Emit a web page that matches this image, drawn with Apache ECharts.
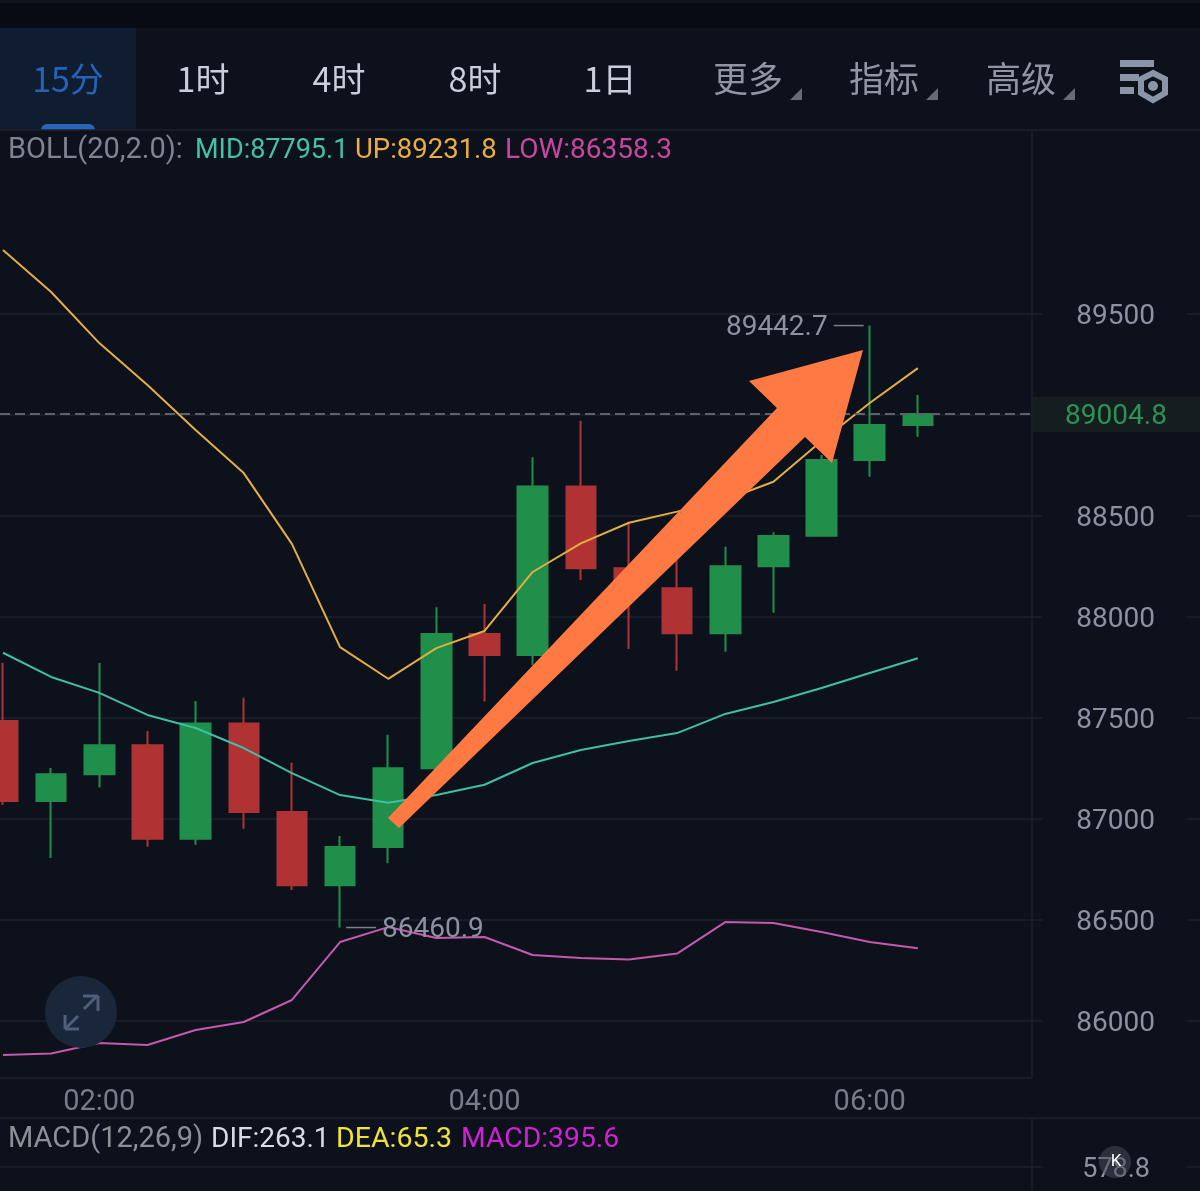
<!DOCTYPE html>
<html>
<head>
<meta charset="utf-8">
<style>html,body{margin:0;padding:0;background:#0d111b}#c{width:1200px;height:1191px}</style>
<script src="https://cdn.jsdelivr.net/npm/echarts@6/dist/echarts.min.js"></script>
</head>
<body>
<div id="c"></div>
<script>
const categories = ['01:30','01:45','02:00','02:15','02:30','02:45','03:00','03:15','03:30','03:45','04:00','04:15','04:30','04:45','05:00','05:15','05:30','05:45','06:00','06:15','06:30','06:45','07:00','07:15','07:30','07:45'];
const opens  = [87484,87088,87220,87364,86901,87472,87033,86670,86860,87250,87915,87811,88645,88240,88141,87918,88250,88402,88777,88950];
const closes = [87088,87220,87364,86901,87472,87033,86670,86860,87250,87915,87811,88645,88240,88141,87918,88250,88400,88777,88950,89004.8];
const lows   = [87068,86805,87155,86861,86871,86950,86647,86460.9,86779,87241,87580,87761,88182,87841,87733,87827,88020,88400,88694,88892];
const highs  = [87773,87251,87771,87434,87583,87599,87277,86914,87416,88047,88064,88790,88971,88465,88281,88347,88419,88802,89442.7,89099];
const bollUp  = [89817,89609,89356,89148,88925,88712,88361,87850,87693,87845,87930,88222,88364,88466,88521,88579,88669,88871,89059,89231.8];
const bollMid = [87822,87702,87623,87514,87449,87350,87226,87117,87079,87117,87168,87276,87340,87385,87424,87519,87578,87647,87722,87795.1];
const bollLow = [85829,85837,85889,85879,85953,85993,86102,86389,86463,86409,86414,86325,86310,86302,86332,86488,86483,86439,86389,86358.3];
const priceTicks = [86000,86500,87000,87500,88000,88500,89000,89500];
const timeLabels = ['02:00','04:00','06:00'];
const macdTicks = [578.8];
const lastPrice = 89004.8, highPrice = 89442.7, lowPrice = 86460.9;
const tabsActive = ['15分'];
const tabs = ['1时','4时','8时','1日'];
const menus = ['更多','指标','高级'];

const BG='#0d111b', GRID='#1c202b', LABEL='#8c92a2';
const LAT='Roboto, "Noto Sans CJK SC", sans-serif';
const CJK='"Noto Sans CJK SC", Roboto, sans-serif';
const chart = echarts.init(document.getElementById('c'));

function txt(x,y,text,size,fill,align,font,weight){
  return {type:'text',z:50,x:x,y:y,style:{text:text,fontSize:size,fill:fill,align:align||'left',verticalAlign:'middle',fontFamily:font||LAT,fontWeight:weight||'normal'}};
}
function rect(x,y,w,h,fill,r){return {type:'rect',z:40,shape:{x:x,y:y,width:w,height:h,r:r||0},style:{fill:fill}};}
function ln(x1,y1,x2,y2,c,w){return {type:'line',z:45,shape:{x1:x1,y1:y1,x2:x2,y2:y2},style:{stroke:c||GRID,lineWidth:w||1.5}};}
function poly(points,fill,z){return {type:'polygon',z:z||50,shape:{points:points},style:{fill:fill}};}

const tabX=[203,339,475,610], menuX=[748,884,1021];
const graphics=[
  rect(0,0,1200,28,'#080b13'), rect(0,0,1200,3,'#11141e'),
  rect(0,28,136,102,'#101c30'),
  rect(41,124,54,6,'#2a66b8',[6,6,0,0]),
  ln(0,130,1200,130), ln(0,1078,1032,1078), ln(0,1118,1200,1118),
  ln(1032,130,1032,1078), ln(1032,1118,1032,1191),
  txt(68,79,tabsActive[0],34,'#2464b8','center',CJK)
];
tabs.forEach((t,i)=>graphics.push(txt(tabX[i],79,t,34,'#c9cedb','center',CJK)));
menus.forEach((t,i)=>{
  graphics.push(txt(menuX[i],79,t,35,'#8e95a3','center',CJK));
  const tx=[802,938,1075][i];
  graphics.push(poly([[tx-12,100],[tx,88],[tx,100]],'#666b78'));
});
graphics.push(rect(1120,60,34,7,'#8b95a8'),rect(1120,74,19,7,'#8b95a8'),rect(1120,87,14,7,'#8b95a8'));
graphics.push({type:'polygon',z:50,shape:{points:[[1153,73],[1165,79],[1165,93],[1153,100],[1141,93],[1141,79]]},style:{fill:'none',stroke:'#8b95a8',lineWidth:6}});
graphics.push({type:'circle',z:50,shape:{cx:1153,cy:86,r:5},style:{fill:'#8b95a8'}});
graphics.push(
  txt(8,151,'BOLL(20,2.0):',29,'#7e8490'),
  txt(195,151,'MID:87795.1',27,'#44c2a5'),
  txt(355,151,'UP:89231.8',27.5,'#e8ae3f'),
  txt(505,151,'LOW:86358.3',28,'#c6479e'),
  txt(8,1140,'MACD(12,26,9)',29,'#8d8f96'),
  txt(211,1140,'DIF:263.1',28,'#d8dbe2'),
  txt(336,1140,'DEA:65.3',28.5,'#efe23f'),
  txt(461,1140,'MACD:395.6',28.3,'#cf22d2')
);
graphics.push({type:'circle',z:48,shape:{cx:81,cy:1012,r:36},style:{fill:'#1a273b'}});
graphics.push(
  ln(66,1028,78,1016,'#4f5f77',3), ln(65,1015,65,1029,'#4f5f77',3), ln(65,1029,79,1029,'#4f5f77',3),
  ln(84,1009,97,996,'#4f5f77',3), ln(83,996,98,996,'#4f5f77',3), ln(98,996,98,1011,'#4f5f77',3)
);
graphics.forEach(g=>{ if(g.type==='line' && g.style.stroke==='#4f5f77') g.z=49; });
graphics.push({type:'circle',z:60,shape:{cx:1115,cy:1162,r:16},style:{fill:'rgba(70,75,88,0.55)'}});
graphics.push(Object.assign(txt(1116,1162,'K',17,'#ffffff','center'),{z:61}));
graphics.push(poly([[388,818],[777,408],[749,381],[863,350],[832,463],[805,437],[399,828]],'#ff7a43',100));

const option={
  backgroundColor:BG,
  animation:false,
  graphic:graphics,
  grid:[
    {left:-21.07,top:130,width:1251.9,height:948,containLabel:false,outerBoundsMode:'none'},
    {left:-21.07,top:1118,width:1251.9,height:73,containLabel:false,outerBoundsMode:'none'}
  ],
  xAxis:[
    {type:'category',gridIndex:0,data:categories,boundaryGap:true,
     axisLine:{show:false},axisTick:{show:false},splitLine:{show:false},
     axisLabel:{margin:8.5,fontSize:29,color:'#777c88',fontFamily:LAT,lineHeight:32,hideOverlap:false,
       interval:(i,v)=>timeLabels.includes(v)}},
    {type:'category',gridIndex:1,data:categories,show:false}
  ],
  yAxis:[
    {type:'value',gridIndex:0,position:'right',min:85715.5,max:90411.4,scale:true,
     axisLine:{show:false},
     axisTick:{show:false,customValues:priceTicks},
     splitLine:{show:true,lineStyle:{color:GRID,width:1.5}},
     axisLabel:{inside:true,customValues:priceTicks,margin:43.8,fontSize:28,color:LABEL,fontFamily:LAT,
       backgroundColor:BG,padding:[0,32,0,34],showMinLabel:true,showMaxLabel:true,
       rich:{a:{fontSize:28,color:LABEL,fontFamily:LAT,padding:[6,0,0,0]}},
       formatter:v=>v===89000?'':'{a|'+v+'}'}},
    {type:'value',gridIndex:1,position:'right',min:0,max:1760,
     axisLine:{show:false},
     axisTick:{show:false,customValues:macdTicks},
     splitLine:{show:true,lineStyle:{color:GRID,width:1.5}},
     axisLabel:{inside:true,customValues:macdTicks,margin:43.8,fontSize:27,color:LABEL,fontFamily:LAT,
       backgroundColor:BG,padding:[0,37,0,39],
       rich:{a:{fontSize:27,color:LABEL,fontFamily:LAT,padding:[6,0,0,0]}},
       formatter:v=>'{a|'+v.toFixed(1)+'}'}}
  ],
  series:[
    {type:'candlestick',xAxisIndex:0,yAxisIndex:0,barWidth:30,z:2,
     data:opens.map((o,i)=>[o,closes[i],lows[i],highs[i]]),
     itemStyle:{color:'#1f8f49',color0:'#b13232',borderColor:'#238d4d',borderColor0:'#ad3436',borderWidth:2}},
    {type:'line',name:'UP',data:bollUp,symbol:'none',z:3,lineStyle:{color:'#e3ae45',width:2}},
    {type:'line',name:'MID',data:bollMid,symbol:'none',z:3,lineStyle:{color:'#3fbfa3',width:2}},
    {type:'line',name:'LOW',data:bollLow,symbol:'none',z:3,lineStyle:{color:'#c459ae',width:2}},
    {type:'custom',z:4,clip:false,xAxisIndex:0,yAxisIndex:0,encode:{x:0,y:1},
     data:[[19,lastPrice],[18,highPrice],[7,lowPrice]],
     renderItem:function(params,api){
       const i=params.dataIndex, p=api.coord([api.value(0),api.value(1)]);
       const v=api.value(1).toFixed(1);
       if(i===0){
         return {type:'group',children:[
           {type:'line',shape:{x1:0,y1:p[1],x2:1032,y2:p[1]},style:{stroke:'#5c616b',lineWidth:2,lineDash:[10,5]}},
           {type:'rect',shape:{x:1032,y:p[1]-17,width:168,height:35},style:{fill:'#151e1e'}},
           {type:'text',x:1116,y:p[1]+3,style:{text:v,fontSize:28,fill:'#2f9157',align:'center',verticalAlign:'middle',fontFamily:LAT}}
         ]};
       }
       const dir=i===1?-1:1;
       return {type:'group',children:[
         {type:'line',shape:{x1:p[0]+dir*6,y1:p[1],x2:p[0]+dir*36,y2:p[1]},style:{stroke:'#7a7f8a',lineWidth:1.5}},
         {type:'text',x:p[0]+dir*42,y:p[1]+2,style:{text:v,fontSize:28,fill:LABEL,align:i===1?'right':'left',verticalAlign:'middle',fontFamily:LAT}}
       ]};
     }}
  ]
};
chart.setOption(option);
</script>
</body>
</html>
